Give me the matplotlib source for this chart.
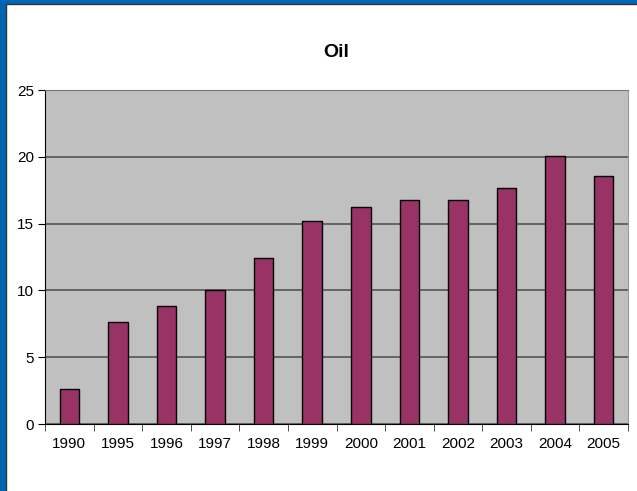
import matplotlib.pyplot as plt
import numpy as np
from matplotlib.patches import Rectangle

plt.rcParams['font.family'] = ['Liberation Sans', 'DejaVu Sans']

years = ['1990', '1995', '1996', '1997', '1998', '1999',
         '2000', '2001', '2002', '2003', '2004', '2005']
oil = [2.6, 7.65, 8.8, 10.05, 12.4, 15.2, 16.25, 16.8, 16.8, 17.7, 20.05, 18.6]

fig = plt.figure(figsize=(6.37, 4.91), dpi=100)

# blue window frame on the left and top, with a thin dark inner edge
fig.patches.append(Rectangle((0, 0), 1, 1, transform=fig.transFigure,
                             facecolor='#0066b3', edgecolor='none', zorder=-2))
fig.patches.append(Rectangle((6 / 637, -0.01), 1, 1.01 - 4 / 491, transform=fig.transFigure,
                             facecolor='white', edgecolor='#333333', linewidth=1, zorder=-1))

ax = fig.add_axes([45 / 637, 1 - 424 / 491, 583 / 637, 334 / 491])
ax.set_facecolor('#c0c0c0')

x = np.arange(len(years))
ax.bar(x, oil, width=0.4, color='#993366', edgecolor='black', linewidth=1, zorder=3)

ax.set_xlim(-0.5, len(years) - 0.5)
ax.set_ylim(0, 25)
ax.set_yticks(range(0, 26, 5))
ax.set_xticks(x)
ax.set_xticklabels(years)
ax.set_xticks(np.arange(-0.5, len(years), 1), minor=True)

ax.yaxis.grid(True, color='#555555', linewidth=1.2, zorder=1)
ax.set_axisbelow(True)

ax.tick_params(axis='x', which='major', length=0, pad=9, labelsize=11)
ax.tick_params(axis='x', which='minor', length=5, direction='out', color='#333333')
ax.tick_params(axis='y', length=5, direction='out', pad=3, labelsize=11)

ax.spines['left'].set_color('black')
ax.spines['bottom'].set_color('black')
ax.spines['top'].set_color('#777777')
ax.spines['right'].set_color('#999999')

ax.set_title('Oil', fontsize=14, fontweight='bold', pad=24)

fig.savefig('out.png', dpi=100)
